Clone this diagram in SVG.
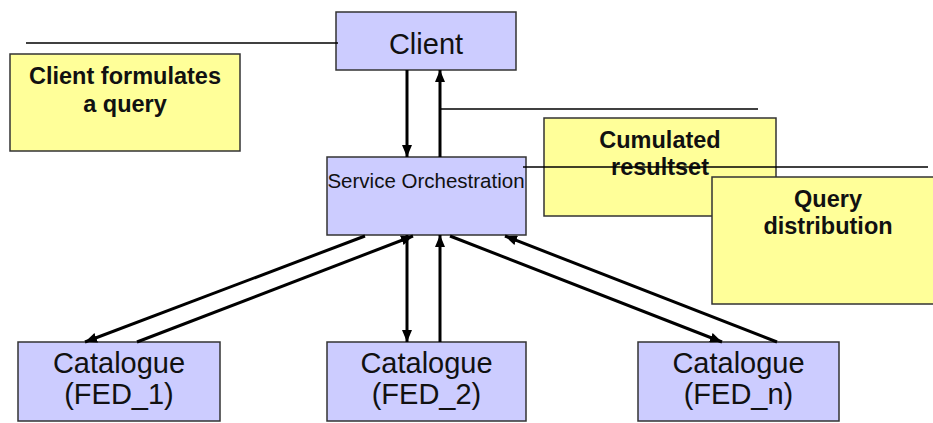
<svg xmlns="http://www.w3.org/2000/svg" width="933" height="423" viewBox="0 0 933 423">
<style>
.blue{fill:#ccccff;stroke:#333;stroke-width:1.5}
.yel{fill:#ffff99;stroke:#333;stroke-width:1.5}
.t{font-family:"Liberation Sans",Arial,sans-serif;fill:#111;text-anchor:middle}
.big{font-size:29px}
.mid{font-size:20.5px}
.note{font-size:23.5px;font-weight:bold}
.arr{stroke:#000;stroke-width:3;fill:none;marker-end:url(#ah)}
.thin{stroke:#000;stroke-width:1.5;fill:none}
</style>
<defs>
<marker id="ah" markerUnits="userSpaceOnUse" markerWidth="12" markerHeight="10" viewBox="0 0 12 10" refX="12" refY="5" orient="auto">
<path d="M0,0 L12,5 L0,10 Z" fill="#000"/>
</marker>
</defs>
<g id="note-client">
<rect class="yel" x="10" y="54" width="230" height="97"/>
<text class="t note" x="125" y="84">Client formulates</text>
<text class="t note" x="125" y="112">a query</text>
</g>
<g id="note-cumulated">
<rect class="yel" x="544" y="118" width="232" height="98"/>
<text class="t note" x="660" y="148">Cumulated</text>
<text class="t note" x="660" y="175">resultset</text>
</g>
<g id="client">
<rect class="blue" x="336" y="12" width="180" height="58"/>
<text class="t big" x="426" y="54">Client</text>
</g>
<g id="orchestration">
<rect class="blue" x="327" y="157" width="199" height="78"/>
<text class="t mid" x="426" y="188">Service Orchestration</text>
</g>
<g id="fed1">
<rect class="blue" x="18" y="342" width="202" height="79"/>
<text class="t big" x="119" y="373">Catalogue</text>
<text class="t big" x="119" y="404">(FED_1)</text>
</g>
<g id="fed2">
<rect class="blue" x="327" y="342" width="199" height="79"/>
<text class="t big" x="426.5" y="373">Catalogue</text>
<text class="t big" x="426.5" y="404">(FED_2)</text>
</g>
<g id="fedn">
<rect class="blue" x="638" y="342" width="201" height="79"/>
<text class="t big" x="738.5" y="373">Catalogue</text>
<text class="t big" x="738.5" y="404">(FED_n)</text>
</g>
<g id="connectors">
<line class="thin" x1="26" y1="43" x2="338" y2="43"/>
<line class="thin" x1="440" y1="109" x2="758" y2="109"/>
<line class="thin" x1="523" y1="167" x2="928" y2="167"/>
<line class="arr" x1="407" y1="70" x2="407" y2="157"/>
<line class="arr" x1="440" y1="157" x2="440" y2="70"/>
<line class="arr" x1="365" y1="236" x2="85" y2="342"/>
<line class="arr" x1="137" y1="342" x2="413" y2="236"/>
<line class="arr" x1="407" y1="235" x2="407" y2="342"/>
<line class="arr" x1="440" y1="342" x2="440" y2="235"/>
<line class="arr" x1="450" y1="236" x2="722" y2="342"/>
<line class="arr" x1="777" y1="342" x2="505" y2="236"/>
</g>
<g id="note-query">
<rect class="yel" x="712" y="177" width="232" height="127"/>
<text class="t note" x="828" y="207">Query</text>
<text class="t note" x="828" y="234">distribution</text>
</g>
</svg>
